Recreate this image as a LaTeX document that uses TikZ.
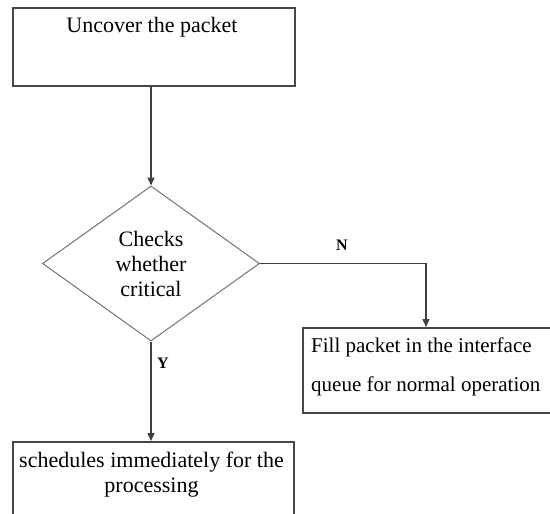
\documentclass[tikz,border=0pt]{standalone}
\usepackage{fontspec}
\setmainfont{Liberation Serif}
\usetikzlibrary{shapes.geometric,arrows.meta}
\begin{document}
\begin{tikzpicture}[x=1pt,y=-1pt,
  boxline/.style={draw=black!72,line width=1.6pt},
  conn/.style={draw=black!75,line width=1.3pt},
  arr/.style={conn,-{Triangle[length=8pt,width=7pt]}},
  box/.style={boxline,rectangle,inner sep=0pt,anchor=north west},
  txt/.style={font=\fontsize{22}{25}\selectfont,inner sep=0pt},
  tighttxt/.style={font=\fontsize{21}{25}\selectfont,inner sep=0pt},
  lab/.style={font=\fontsize{16}{18}\selectfont\bfseries,inner sep=0pt}]
\useasboundingbox (0,0) rectangle (550,514);
\fill[white] (0,0) rectangle (550,514);
% boxes
\node[box,minimum width=282pt,minimum height=78pt] (uncover) at (12,7) {};
\node[txt,anchor=base] (uncovertxt) at (152,32) {Uncover the packet};
\node[draw=black!55,line width=1pt,diamond,minimum width=217pt,minimum height=155pt,
      inner sep=0pt,txt,align=center] (check) at (151,263.5) {Checks\\whether\\critical};
\node[box,minimum width=260pt,minimum height=85pt] (fill) at (302,327) {};
\node[tighttxt,anchor=base west] (filltxt1) at (311,352) {Fill packet in the interface};
\node[tighttxt,anchor=base west] (filltxt2) at (311,391) {queue for normal operation};
\node[box,minimum width=281pt,minimum height=90pt] (sched) at (12,441) {};
\node[txt,anchor=base] (schedtxt1) at (151.5,467) {schedules immediately for the};
\node[txt,anchor=base] (schedtxt2) at (151.5,492) {processing};
% connectors
\draw[arr] (check.north |- uncover.south) -- (check.north);
\coordinate (nturn) at (426,263.5);
\draw[arr] (check.east) -- (nturn) -- (nturn |- fill.north);
\draw[arr] (check.south) -- (check.south |- sched.north);
% labels
\node[lab] (nlab) at (342,245) {N};
\node[lab] (ylab) at (163,363) {Y};
\end{tikzpicture}
\end{document}
